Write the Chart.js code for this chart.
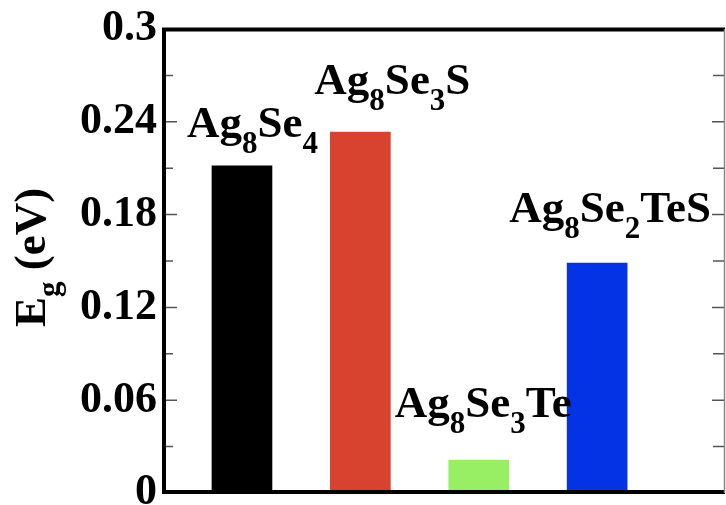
<!DOCTYPE html>
<html>
<head>
<meta charset="utf-8">
<script src="https://cdn.jsdelivr.net/npm/chart.js@4.4.1/dist/chart.umd.min.js"></script>
<style>
  html, body { margin: 0; padding: 0; background: #fff; }
  #wrap { width: 726px; height: 505px; }
</style>
</head>
<body>
<div id="wrap"><canvas id="graficaGap" width="726" height="505"></canvas></div>
<script>
// compounds, written with digits that get drawn as subscripts
var compuestos = ["Ag8Se4", "Ag8Se3S", "Ag8Se3Te", "Ag8Se2TeS"];
var posiciones = [1, 2, 3, 4];
var gaps = [0.2115, 0.2333, 0.0213, 0.1487];
var colores = ["#000000", "#d8432f", "#99ef63", "#0433e6"];
var ticksY = [0, 0.06, 0.12, 0.18, 0.24, 0.3];
var menoresY = [0.03, 0.09, 0.15, 0.21, 0.27];

var fuente = "'Liberation Serif', 'Times New Roman', serif";
// where each label starts relative to its bar: [dx from bar centre, baseline above bar top]
var desplazamiento = [[-55, 29], [-46, 38], [-84, 43], [-88, 41]];

function partes(txt) {
  // split into normal text and digit runs (subscripts)
  return txt.match(/\d+|\D+/g).map(function(p) {
    return { t: p, sub: /^\d+$/.test(p) };
  });
}

function escribir(ctx, segs, x, y, tam, tamSub, bajada) {
  var cx = x;
  segs.forEach(function(s) {
    ctx.font = "bold " + (s.sub ? tamSub : tam) + "px " + fuente;
    ctx.fillText(s.t, cx, s.sub ? y + bajada : y);
    cx += ctx.measureText(s.t).width;
  });
}

var marco = {
  id: 'marco',
  afterDatasetsDraw: function(chart) {
    var ctx = chart.ctx;
    var a = chart.chartArea;
    var ys = chart.scales.y;
    var xs = chart.scales.x;
    ctx.save();

    // inward ticks on left and right
    ctx.strokeStyle = "#555";
    ctx.lineWidth = 1.5;
    ctx.beginPath();
    ticksY.forEach(function(v) {
      var py = ys.getPixelForValue(v);
      ctx.moveTo(a.left, py); ctx.lineTo(a.left + 14, py);
      ctx.moveTo(a.right, py); ctx.lineTo(a.right - 13, py);
    });
    menoresY.forEach(function(v) {
      var py = ys.getPixelForValue(v);
      ctx.moveTo(a.left, py); ctx.lineTo(a.left + 10, py);
      ctx.moveTo(a.right, py); ctx.lineTo(a.right - 12, py);
    });
    ctx.stroke();

    // frame
    ctx.strokeStyle = "#000";
    ctx.lineWidth = 4;
    ctx.beginPath();
    ctx.moveTo(a.right, a.top + 0.5);
    ctx.lineTo(a.left + 1, a.top + 0.5);
    ctx.lineTo(a.left + 1, a.bottom - 1);
    ctx.lineTo(a.right, a.bottom - 1);
    ctx.stroke();
    ctx.strokeStyle = "#888";
    ctx.lineWidth = 1.5;
    ctx.beginPath();
    ctx.moveTo(a.right - 0.5, a.top);
    ctx.lineTo(a.right - 0.5, a.bottom);
    ctx.stroke();

    // compound labels above the bars
    ctx.fillStyle = "#000";
    ctx.textAlign = "left";
    ctx.textBaseline = "alphabetic";
    compuestos.forEach(function(c, i) {
      var px = xs.getPixelForValue(posiciones[i]) + desplazamiento[i][0];
      var py = ys.getPixelForValue(gaps[i]) - desplazamiento[i][1];
      escribir(ctx, partes(c), px, py, 45, 31, 16);
    });

    // y axis title: E_g (eV)
    ctx.translate(45, 327);
    ctx.rotate(-Math.PI / 2);
    escribir(ctx, [{ t: "E", sub: false }, { t: "g", sub: true }, { t: " (eV)", sub: false }], 0, 0, 45, 31, 14);
    ctx.restore();
  }
};

var lienzo = document.getElementById("graficaGap").getContext("2d");
var grafica = new Chart(lienzo, {
  type: 'bar',
  data: {
    datasets: [{
      data: posiciones.map(function(p, i) { return { x: p, y: gaps[i] }; }),
      backgroundColor: colores,
      borderWidth: 0,
      barThickness: 60
    }]
  },
  options: {
    responsive: false,
    animation: false,
    layout: { padding: { top: 29, right: 1, bottom: 12, left: 0 } },
    plugins: { legend: { display: false }, tooltip: { enabled: false } },
    scales: {
      x: { type: 'linear', min: 0.333, max: 5.08, offset: false, display: false },
      y: {
        min: 0,
        max: 0.3,
        grid: { display: false, drawTicks: false },
        border: { display: false },
        afterBuildTicks: function(s) {
          s.ticks = ticksY.map(function(v) { return { value: v }; });
        },
        afterFit: function(s) {
          s.width = 163;
          s.paddingTop = 0;
          s.paddingBottom = 0;
        },
        ticks: {
          padding: 6,
          color: "#000",
          font: { family: fuente, size: 44, weight: 'bold' },
          callback: function(v) { return String(+v.toFixed(2)); }
        }
      }
    }
  },
  plugins: [marco]
});
</script>
</body>
</html>
